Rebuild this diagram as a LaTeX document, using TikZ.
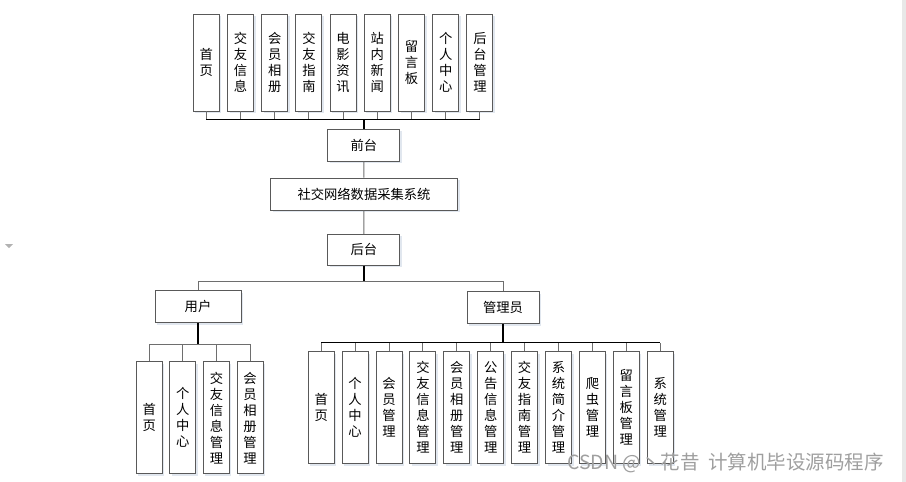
\documentclass[tikz,border=0pt]{standalone}
\usepackage{fontspec}
\setmainfont{Noto Sans CJK SC}
\usepackage{xcolor}
\definecolor{Col1}{RGB}{89,89,89}
\definecolor{Col2}{RGB}{110,110,110}
\definecolor{ColS}{RGB}{205,215,228}
\usepackage{tikz}
\usetikzlibrary{shadows}
\tikzstyle{Node}=[rectangle,draw=Col1,fill=white,line width=0.9pt,
drop shadow={shadow xshift=2pt,shadow yshift=-2pt,fill=ColS,opacity=.6},
font=\fontsize{13.3}{16}\selectfont,inner sep=0pt,align=center]
\tikzstyle{Wide}=[Node,minimum width=72pt,minimum height=32pt]
\tikzstyle{Tall}=[Node,minimum width=26pt]
\tikzstyle{Edge}=[draw=Col2,line width=0.9pt]
\tikzstyle{Bus}=[draw=black,line width=0.8pt]
\tikzstyle{Trunk}=[draw=black,line width=1.8pt]

\begin{document}
\begin{tikzpicture}[x=1pt,y=-1pt]
        \useasboundingbox(0,0)rectangle(906,482);
        \fill[gray!18](902,0)rectangle(906,482);
        \fill[gray!60](5,244)--(13,244)--(9,248)--cycle;
        % front end
        \foreach \t[count=\i from 0] in {首\\页,交\\友\\信\\息,会\\员\\相\\册,
            交\\友\\指\\南,电\\影\\资\\讯,站\\内\\新\\闻,留\\言\\板,
            个\\人\\中\\心,后\\台\\管\\理}
            \node[Tall,minimum height=97pt](top\i)at(206.3+34.2*\i,62.5){\t};
        \node[Wide](front)at(363.8,145){前台};
        \node[Wide,minimum width=187pt](sys)at(364,194){社交网络数据采集系统};
        \node[Wide,minimum height=31pt](back)at(363.8,249.7){后台};
        \node[Wide,minimum width=86pt](user)at(198,306.5){用户};
        \node[Wide](admin)at(503,307.5){管理员};
        % user
        \foreach \t[count=\i from 0] in {首\\页,个\\人\\中\\心,
            交\\友\\信\\息\\管\\理,会\\员\\相\\册\\管\\理}
            \node[Tall,minimum height=112pt](u\i)at(149.2+33.6*\i,417.8){\t};
        % admin
        \foreach \t[count=\i from 0] in {首\\页,个\\人\\中\\心,会\\员\\管\\理,
            交\\友\\信\\息\\管\\理,会\\员\\相\\册\\管\\理,公\\告\\信\\息\\管\\理,
            交\\友\\指\\南\\管\\理,系\\统\\简\\介\\管\\理,爬\\虫\\管\\理,
            留\\言\\板\\管\\理,系\\统\\管\\理}
            \node[Tall,minimum height=112pt](a\i)at(321.2+33.9*\i,407.5){\t};
        \coordinate(b1)at(363.8,119);
        \coordinate(b2)at(363.8,281.7);
        \coordinate(b3)at(198,344);
        \coordinate(b4)at(503,342.5);
        \foreach \i in {0,...,8}
            \draw[Edge](top\i.south)--(top\i.south|-b1);
        \draw[Bus](top0.south|-b1)--(top8.south|-b1);
        \draw[Trunk](b1)--(front);
        \draw[Edge](front)--(sys);
        \draw[Edge](sys)--(back);
        \draw[Trunk](back)--(b2);
        \draw[Edge](b2)-|(user);
        \draw[Edge](b2)-|(admin);
        \draw[Trunk](user)--(b3);
        \foreach \i in {0,...,3}
            \draw[Edge](u\i.north)--(u\i.north|-b3);
        \draw[Edge](u0.north|-b3)--(u3.north|-b3);
        \draw[Trunk](admin)--(b4);
        \foreach \i in {0,...,10}
            \draw[Edge](a\i.north)--(a\i.north|-b4);
        \draw[Bus](a0.north|-b4)--(a10.north|-b4);
        \node[text=gray!75,font=\fontsize{19.5}{22}\selectfont,anchor=west,inner sep=0pt]
            (mark)at(567,463){CSDN @丶花昔\ \ 计算机毕设源码程序};
    \end{tikzpicture}
\end{document}
